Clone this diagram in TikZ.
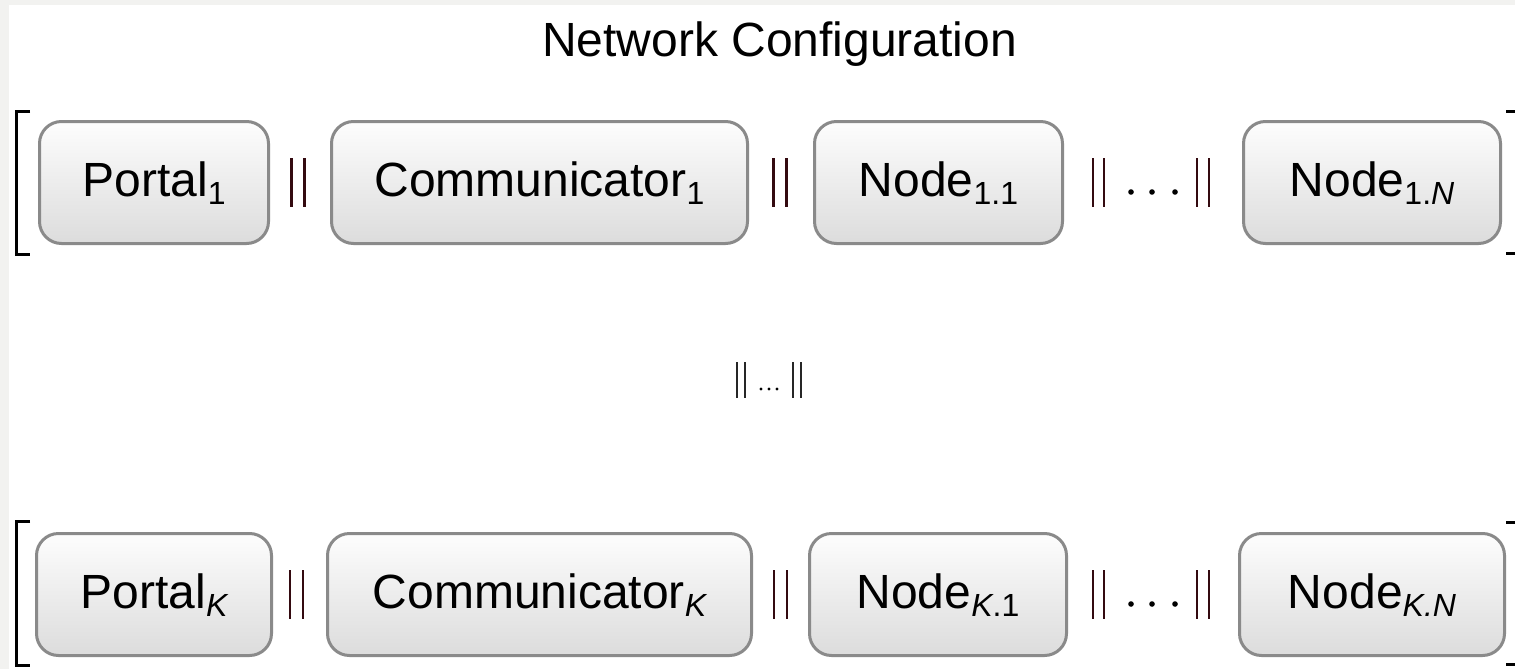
\documentclass[tikz,border=0pt]{standalone}
\usepackage{fontspec}
\setmainfont{Liberation Sans}
\usetikzlibrary{calc}

\definecolor{framegray}{HTML}{F2F2F0}
\definecolor{boxedge}{HTML}{8A8A8A}
\definecolor{boxtop}{HTML}{FDFDFD}
\definecolor{boxbot}{HTML}{DCDCDC}
\definecolor{barcol}{HTML}{340A10}

% lowered, smaller index after a component name
\newcommand\lowidx[1]{\raisebox{-8pt}{\fontsize{32}{32}\selectfont #1}}

\tikzset{
  unit/.style={rectangle, rounded corners=22pt, draw=boxedge, line width=3pt,
    top color=boxtop, bottom color=boxbot, inner sep=0pt,
    minimum height=122pt, text height=35pt, text depth=8pt,
    font=\fontsize{48}{52}\selectfont},
  bar/.style={draw=barcol, line width=2.2pt},
  thinbar/.style={draw=black!85, line width=1.6pt},
  brk/.style={draw=black, line width=3pt},
  % parallel composition "||"
  parbars/.pic={
    \draw[bar] (-6.5,-24.5) -- (-6.5,24.5) (6.5,-24.5) -- (6.5,24.5);
  },
  % "|| . . . ||"
  pardots/.pic={
    \draw[bar] (-58,-24.5) -- (-58,24.5) (-47,-24.5) -- (-47,24.5)
               (46,-24.5) -- (46,24.5) (58,-24.5) -- (58,24.5);
    \fill (-20,9.5) circle (2.8) (1,9.5) circle (2.8) (24,9.5) circle (2.8);
  },
  % small "||...||" between the rows
  midsep/.pic={
    \draw[thinbar] (-32,-18) -- (-32,18) (-24,-18) -- (-24,18)
                   (24,-18) -- (24,18) (32,-18) -- (32,18);
    \fill (-8,9) circle (1.7) (0,9) circle (1.7) (8,9) circle (1.7);
  }
}

\begin{document}
\begin{tikzpicture}[x=1pt, y=-1pt]
  \useasboundingbox (0,0) rectangle (1515,669);
  \clip (0,0) rectangle (1515,669);
  \fill[framegray] (0,0) rectangle (1515,669);
  \fill[white] (9,5) rectangle (1515,669);

  \node[font=\fontsize{48}{52}\selectfont, anchor=base] (title) at (779.5,57) {Network Configuration};

  % first configuration row
  \node[unit, minimum width=229pt] (p1)  at (154,182.5)   {Portal\lowidx{1}};
  \node[unit, minimum width=416pt] (c1)  at (539.5,182.5) {Communicator\lowidx{1}};
  \node[unit, minimum width=248pt] (n11) at (938.5,182.5) {Node\lowidx{1.1}};
  \node[unit, minimum width=257pt] (n1N) at (1372,182.5)  {Node\lowidx{1.\itshape N}};

  \pic at ($(p1.east)!0.5!(c1.west)+(-2,0)$) {parbars};
  \pic at ($(c1.east)!0.5!(n11.west)+(-1,0)$) {parbars};
  \pic at ($(n11.east)!0.5!(n1N.west)+(-2,0)$) {pardots};

  \draw[brk] (30,111) -| (16,254) -- (30,254);
  \draw[brk] (1506,111) -| (1519,253) -- (1506,253);

  % separator between rows
  \coordinate (mid) at (769,380);
  \pic at (mid) {midsep};

  % last configuration row
  \node[unit, minimum width=235pt] (pK)  at (154,594.5)   {Portal\lowidx{\itshape K}};
  \node[unit, minimum width=424pt] (cK)  at (539.5,594.5) {Communicator\lowidx{\itshape K}};
  \node[unit, minimum width=257pt] (nK1) at (938,594.5)   {Node\lowidx{\itshape K\upshape .1}};
  \node[unit, minimum width=265pt] (nKN) at (1372,594.5)  {Node\lowidx{\itshape K.N}};

  \pic at ($(pK.east)!0.5!(cK.west)+(-3,0)$) {parbars};
  \pic at ($(cK.east)!0.5!(nK1.west)+(0,0)$) {parbars};
  \pic at ($(nK1.east)!0.5!(nKN.west)+(-2,0)$) {pardots};

  \draw[brk] (30,521) -| (16,665) -- (30,665);
  \draw[brk] (1506,522) -| (1519,664) -- (1506,664);
\end{tikzpicture}
\end{document}
